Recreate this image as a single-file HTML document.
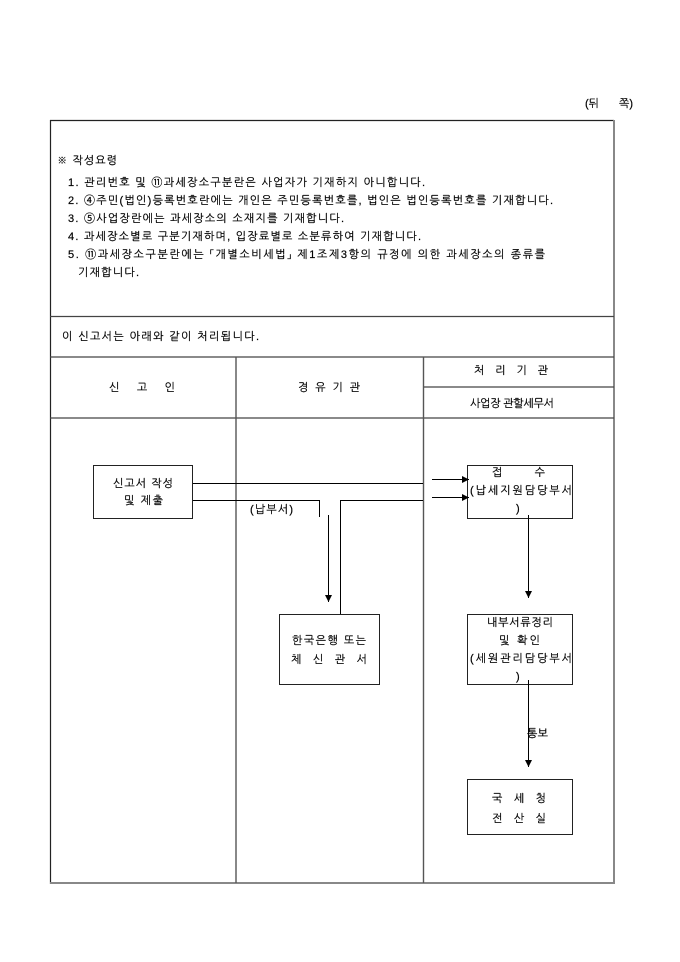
<!DOCTYPE html>
<html>
<head>
<meta charset="utf-8">
<style>
  html, body { margin:0; padding:0; background:#fff; }
  svg { display:block; }
  text { font-family: "Liberation Sans", "NanumGothic", "Noto Sans CJK KR", sans-serif; font-size:11px; fill:#000; stroke:#000; stroke-width:0.2px; }
</style>
</head>
<body>
<svg width="680" height="962" viewBox="0 0 680 962" xmlns="http://www.w3.org/2000/svg">
  <defs>
    <marker id="ah" markerWidth="8" markerHeight="8" refX="7" refY="4" orient="auto" markerUnits="userSpaceOnUse">
      <path d="M0,0.5 L7,4 L0,7.5 Z" fill="#000"/>
    </marker>
  </defs>

  <!-- header -->
  <text x="585" y="107">(뒤</text>
  <text x="633" y="107" text-anchor="end">쪽)</text>

  <!-- outer frame -->
  <line x1="50.5" y1="120" x2="50.5" y2="884" stroke="#222" stroke-width="1.2"/>
  <line x1="50" y1="120.5" x2="614" y2="120.5" stroke="#222" stroke-width="1.2"/>
  <line x1="614" y1="120" x2="614" y2="884" stroke="#888" stroke-width="2"/>
  <line x1="50" y1="883" x2="615" y2="883" stroke="#888" stroke-width="2"/>

  <!-- notes -->
  <text x="57" y="164" textLength="60" lengthAdjust="spacing">※ 작성요령</text>
  <text x="68" y="186" textLength="357" lengthAdjust="spacing">1. 관리번호 및 ⑪과세장소구분란은 사업자가 기재하지 아니합니다.</text>
  <text x="68" y="204" textLength="485" lengthAdjust="spacing">2. ④주민(법인)등록번호란에는 개인은 주민등록번호를, 법인은 법인등록번호를 기재합니다.</text>
  <text x="68" y="222" textLength="276" lengthAdjust="spacing">3. ⑤사업장란에는 과세장소의 소재지를 기재합니다.</text>
  <text x="68" y="240" textLength="353" lengthAdjust="spacing">4. 과세장소별로 구분기재하며, 입장료별로 소분류하여 기재합니다.</text>
  <text x="68" y="258" textLength="477" lengthAdjust="spacing">5. ⑪과세장소구분란에는 「개별소비세법」 제1조제3항의 규정에 의한 과세장소의 종류를</text>
  <text x="78" y="276" textLength="61" lengthAdjust="spacing">기재합니다.</text>

  <!-- horizontal rules -->
  <line x1="50" y1="316.5" x2="614" y2="316.5" stroke="#444" stroke-width="1.2"/>
  <text x="62" y="340" textLength="197" lengthAdjust="spacing">이 신고서는 아래와 같이 처리됩니다.</text>
  <line x1="50" y1="357" x2="614" y2="357" stroke="#444" stroke-width="1.2"/>
  <line x1="424" y1="387" x2="614" y2="387" stroke="#444" stroke-width="1.2"/>
  <line x1="50" y1="418" x2="614" y2="418" stroke="#444" stroke-width="1.2"/>

  <!-- column dividers -->
  <line x1="236" y1="357" x2="236" y2="883" stroke="#555" stroke-width="1.4"/>
  <line x1="423.5" y1="357" x2="423.5" y2="883" stroke="#555" stroke-width="1.4"/>

  <!-- column headers -->
  <text x="109" y="391" textLength="66" lengthAdjust="spacing">신 고 인</text>
  <text x="298" y="391" textLength="62" lengthAdjust="spacing">경 유 기 관</text>
  <text x="474" y="374" textLength="74" lengthAdjust="spacing">처 리 기 관</text>
  <text x="470" y="407" textLength="84" lengthAdjust="spacing">사업장 관할세무서</text>

  <!-- boxes -->
  <rect x="93.5" y="465.5" width="99" height="53" fill="none" stroke="#222" stroke-width="1"/>
  <rect x="279.5" y="614.5" width="100" height="70" fill="none" stroke="#222" stroke-width="1"/>
  <rect x="467.5" y="465.5" width="105" height="53" fill="none" stroke="#222" stroke-width="1"/>
  <rect x="467.5" y="614.5" width="105" height="70" fill="none" stroke="#222" stroke-width="1"/>
  <rect x="467.5" y="779.5" width="105" height="55" fill="none" stroke="#222" stroke-width="1"/>

  <!-- box texts -->
  <text x="113" y="487" textLength="60" lengthAdjust="spacing">신고서 작성</text>
  <text x="124" y="504" textLength="39" lengthAdjust="spacing">및 제출</text>

  <text x="250" y="513" textLength="43" lengthAdjust="spacing">(납부서)</text>

  <text x="292" y="644" textLength="74" lengthAdjust="spacing">한국은행 또는</text>
  <text x="291" y="663" textLength="76" lengthAdjust="spacing">체 신 관 서</text>

  <text x="492" y="476" textLength="53" lengthAdjust="spacing">접 수</text>
  <text x="470" y="494" textLength="102" lengthAdjust="spacing">(납세지원담당부서</text>
  <text x="516" y="512">)</text>

  <text x="487" y="626" textLength="66" lengthAdjust="spacing">내부서류정리</text>
  <text x="499" y="644" textLength="41" lengthAdjust="spacing">및 확인</text>
  <text x="470" y="662" textLength="102" lengthAdjust="spacing">(세원관리담당부서</text>
  <text x="516" y="680">)</text>

  <text x="527" y="737" textLength="21" lengthAdjust="spacing">통보</text>

  <text x="492" y="802" textLength="54" lengthAdjust="spacing">국 세 청</text>
  <text x="492" y="822" textLength="54" lengthAdjust="spacing">전 산 실</text>

  <!-- connectors -->
  <g stroke="#000" stroke-width="1" fill="none">
    <line x1="193" y1="483.5" x2="423" y2="483.5"/>
    <polyline points="193,500.5 319.5,500.5 319.5,517"/>
    <line x1="328.5" y1="515" x2="328.5" y2="602" marker-end="url(#ah)"/>
    <polyline points="340.5,614 340.5,500.5 423,500.5"/>
    <line x1="432" y1="479.5" x2="469" y2="479.5" marker-end="url(#ah)"/>
    <line x1="432" y1="497.5" x2="469" y2="497.5" marker-end="url(#ah)"/>
    <line x1="528.5" y1="515" x2="528.5" y2="598" marker-end="url(#ah)"/>
    <line x1="528.5" y1="680" x2="528.5" y2="767" marker-end="url(#ah)"/>
  </g>
</svg>
</body>
</html>
